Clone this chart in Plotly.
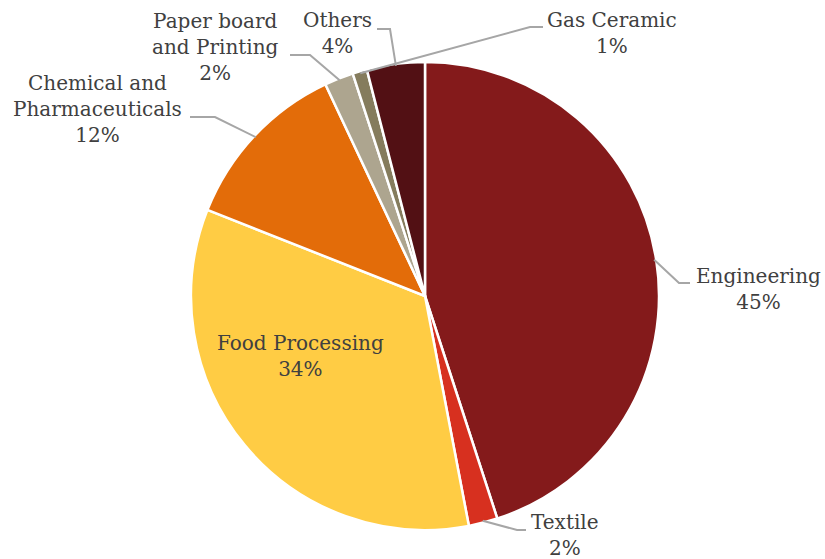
import math
import plotly.graph_objects as go

# Sector shares (%), listed clockwise from 12 o'clock
sectors = ["Engineering", "Textile", "Food Processing", "Chemical and Pharmaceuticals",
           "Paper board and Printing", "Gas Ceramic", "Others"]
label_text = ["Engineering", "Textile", "Food Processing", "Chemical and<br>Pharmaceuticals",
              "Paper board<br>and Printing", "Gas Ceramic", "Others"]
shares = [45, 2, 34, 12, 2, 1, 4]
colors = ["#841A1B", "#D7301F", "#FFCC44", "#E36C09", "#ADA58F", "#857C5D", "#521014"]

W, H = 825, 559
CX, CY, R = 425, 296, 234  # pie centre and radius in pixels


def px(x):
    return x / W


def py(y):
    return 1 - y / H


fig = go.Figure(go.Pie(
    labels=sectors,
    values=shares,
    sort=False,
    direction="clockwise",
    rotation=0,
    marker=dict(colors=colors, line=dict(color="white", width=2.5)),
    textinfo="none",
    hoverinfo="label+percent",
    domain=dict(x=[px(CX - R), px(CX + R)], y=[py(CY + R), py(CY - R)]),
    showlegend=False,
))

# label centres and leader-line elbows (pixels); None = label sits inside the slice
label_pos = [(758, 289), (565, 535), (300, 356), (97, 109), (215, 47), (612, 33), (337, 33)]
elbows = [[(679, 283), (690, 283)],
          [(517, 530), (526, 530)],
          None,
          [(215, 117), (190, 117)],
          [(310, 55), (290, 55)],
          [(530, 27), (543, 27)],
          [(390, 29), (377, 29)]]

total = sum(shares)
cum = 0
font = dict(family="DejaVu Serif", size=20, color="#404040")
for name, val, (lx, ly), elb in zip(label_text, shares, label_pos, elbows):
    mid = (cum + val / 2) / total * 2 * math.pi
    cum += val
    pct = round(val / total * 100)
    fig.add_annotation(x=px(lx), y=py(ly), xref="paper", yref="paper",
                       text=f"{name}<br>{pct}%", showarrow=False, font=font,
                       xanchor="center", yanchor="middle", align="center")
    if elb:
        ex = CX + (R - 2) * math.sin(mid)
        ey = CY - (R - 2) * math.cos(mid)
        pts = [(ex, ey)] + elb
        path = "M " + " L ".join(f"{px(x)},{py(y)}" for x, y in pts)
        fig.add_shape(type="path", path=path, xref="paper", yref="paper",
                      line=dict(color="#A6A6A6", width=2))

fig.update_layout(width=W, height=H, margin=dict(l=0, r=0, t=0, b=0),
                  paper_bgcolor="white", plot_bgcolor="white")
fig.write_html("out.html")
